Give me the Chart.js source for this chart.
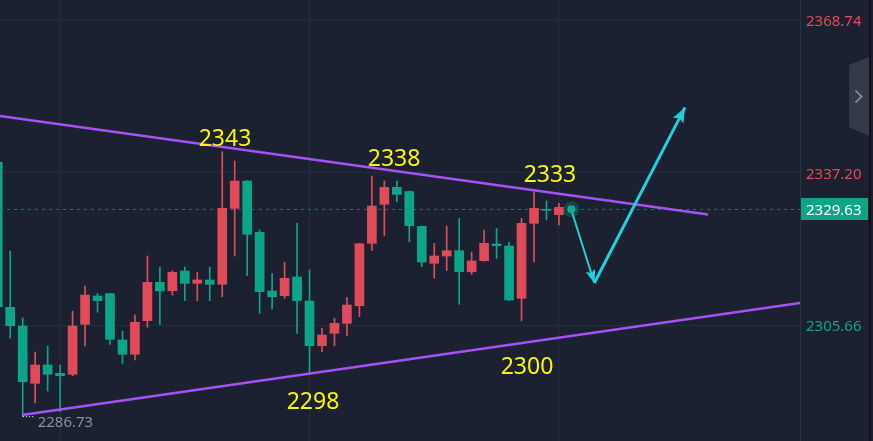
<!DOCTYPE html>
<html>
<head>
<meta charset="utf-8">
<script src="https://cdn.jsdelivr.net/npm/chart.js@4.4.0/dist/chart.umd.min.js"></script>
<style>
  html, body { margin: 0; padding: 0; background: #1b2130; }
  #wrap { position: relative; width: 873px; height: 441px; }
</style>
</head>
<body>
<div id="wrap"><canvas id="c"></canvas></div>
<script>
// ---- data ----
const opens  = [2339.35,2309.36,2305.49,2293.64,2297.43,2295.71,2295.50,2305.84,2311.70,2312.20,
                2302.60,2299.64,2306.59,2314.53,2312.79,2316.87,2314.32,2315.01,2314.12,2329.84,
                2335.48,2324.87,2312.73,2311.76,2315.63,2310.66,2301.42,2303.98,2306.05,2309.69,
                2322.60,2330.66,2334.18,2333.30,2326.10,2318.46,2319.97,2321.07,2316.72,2319.00,
                2322.45,2322.04,2311.22,2326.73,2329.63,2328.51];
const highs  = [2339.50,2321.01,2307.15,2300.12,2301.36,2297.43,2308.53,2313.77,2312.26,2312.26,
                2304.46,2307.83,2319.97,2317.70,2316.87,2317.70,2316.60,2317.70,2341.54,2339.62,
                2335.60,2325.35,2316.39,2318.67,2326.73,2317.08,2305.02,2307.09,2311.43,2322.60,
                2336.52,2335.48,2335.48,2333.41,2326.18,2322.60,2326.18,2327.77,2320.80,2325.35,
                2325.70,2322.87,2327.77,2333.15,2331.35,2330.87];
const lows   = [2309.30,2303.01,2286.73,2289.57,2292.05,2287.77,2295.21,2301.36,2308.33,2301.71,
                2297.78,2298.46,2305.22,2305.84,2311.90,2310.73,2310.73,2310.73,2311.55,2319.97,
                2315.90,2308.12,2308.95,2311.22,2303.98,2295.56,2300.18,2301.42,2303.49,2307.42,
                2321.07,2324.17,2331.20,2322.93,2317.76,2315.36,2316.93,2309.98,2316.19,2318.90,
                2319.50,2310.73,2306.59,2318.73,2327.42,2326.38];
const closes = [2309.48,2305.55,2293.97,2297.43,2295.50,2295.21,2305.49,2311.90,2310.73,2302.74,
                2299.64,2306.26,2314.53,2312.79,2316.60,2314.32,2315.01,2314.12,2329.84,2335.48,
                2324.46,2312.59,2311.55,2315.36,2310.73,2301.42,2303.63,2306.05,2309.84,2322.50,
                2330.31,2334.18,2332.73,2326.24,2318.73,2319.97,2321.07,2316.72,2318.94,2322.60,
                2322.10,2310.87,2326.73,2329.84,2329.42,2330.04];
const lastIndex = 46;
const lastPrice = 2329.63;
const lowIndex = 2;
const lowPrice = 2286.73;

const axisTicks = [2368.74, 2337.20, 2305.66];
const timeGridTicks = [5, 25, 45];

const upperLineX = [0.18, 56.96];
const upperLineY = [2348.93, 2328.55];
const lowerLineX = [1.94, 66];
const lowerLineY = [2287.08, 2310.87];

const arrowDownX = [45.97, 47.84];
const arrowDownY = [2329.69, 2314.39];
const arrowUpX   = [47.84, 55.11];
const arrowUpY   = [2314.39, 2350.71];

const noteTexts = ['2343', '2338', '2333', '2298', '2300'];
const noteX     = [18.22, 31.78, 44.28, 25.28, 42.44];
const noteY     = [2342.72, 2338.59, 2335.34, 2288.26, 2295.56];

// ---- styling ----
const UP = '#e04b5a', DOWN = '#0ca58a';
const BG = '#1b2130', GRID = '#262d3a';

const idx = opens.map((_, i) => i);
const candleColors = idx.map(i => closes[i] >= opens[i] ? UP : DOWN);
const wickData = idx.map(i => ({x: i, y: [lows[i], highs[i]]}));
const bodyData = idx.map(i => ({x: i, y: [Math.min(opens[i], closes[i]), Math.max(opens[i], closes[i])]}));
const pts = (xs, ys) => xs.map((x, i) => ({x, y: ys[i]}));

function zeroPad(s) { s.paddingTop = 0; s.paddingBottom = 0; s.paddingLeft = 0; s.paddingRight = 0; }

const bgPlugin = {
  id: 'bg',
  beforeDraw(chart) {
    const {ctx, width, height} = chart;
    ctx.save();
    ctx.fillStyle = BG;
    ctx.fillRect(0, 0, width, height);
    ctx.restore();
  },
  beforeDatasetsDraw(chart) {
    const {ctx, chartArea} = chart;
    const y = chart.scales.y.getPixelForValue(lastPrice);
    ctx.save();
    ctx.strokeStyle = '#21705f';
    ctx.lineWidth = 1;
    ctx.setLineDash([3, 4]);
    ctx.beginPath();
    ctx.moveTo(chartArea.left, Math.round(y) + 0.5);
    ctx.lineTo(chartArea.right, Math.round(y) + 0.5);
    ctx.stroke();
    ctx.restore();
  }
};

function arrowHead(ctx, x0, y0, x1, y1, len, half, color) {
  const a = Math.atan2(y1 - y0, x1 - x0);
  ctx.save();
  ctx.fillStyle = color;
  ctx.translate(x1, y1);
  ctx.rotate(a);
  ctx.beginPath();
  ctx.moveTo(0, 0);
  ctx.lineTo(-len, -half);
  ctx.lineTo(-len * 0.8, 0);
  ctx.lineTo(-len, half);
  ctx.closePath();
  ctx.fill();
  ctx.restore();
}

const overlayPlugin = {
  id: 'overlay',
  afterDatasetsDraw(chart) {
    const {ctx} = chart;
    const xs = chart.scales.x, ys = chart.scales.y;
    chart.data.datasets.forEach((ds, di) => {
      if (!ds.arrow) return;
      const p = chart.getDatasetMeta(di).data;
      const a = p[p.length - 2], b = p[p.length - 1];
      arrowHead(ctx, a.x, a.y, b.x, b.y, ds.arrow.len, ds.arrow.half, ds.borderColor);
    });
    ctx.save();
    ctx.fillStyle = '#f7f700';
    ctx.font = '23px "Noto Sans", "Open Sans", sans-serif';
    ctx.textAlign = 'center';
    ctx.textBaseline = 'alphabetic';
    noteTexts.forEach((t, i) => {
      ctx.fillText(t, xs.getPixelForValue(noteX[i]), ys.getPixelForValue(noteY[i]));
    });
    ctx.restore();
    const lx = xs.getPixelForValue(lowIndex), ly = ys.getPixelForValue(lowPrice);
    ctx.save();
    ctx.fillStyle = '#c0c4cc';
    for (let k = 0; k < 4; k++) ctx.fillRect(Math.round(lx) + k * 3, Math.round(ly) - 1, 1.2, 1.2);
    ctx.fillStyle = '#8a909c';
    ctx.font = '15px "Noto Sans", sans-serif';
    ctx.textAlign = 'left';
    ctx.textBaseline = 'alphabetic';
    ctx.fillText(lowPrice.toFixed(2), lx + 15, ly + 10);
    ctx.restore();
  },
  afterDraw(chart) {
    const {ctx, chartArea} = chart;
    const y = chart.scales.y.getPixelForValue(lastPrice);
    ctx.save();
    ctx.fillStyle = '#0fa388';
    ctx.fillRect(chartArea.right + 1, Math.round(y) - 11, 67, 22);
    ctx.fillStyle = '#ffffff';
    ctx.font = '15px "Noto Sans", sans-serif';
    ctx.textAlign = 'left';
    ctx.textBaseline = 'middle';
    ctx.fillText(lastPrice.toFixed(2), chartArea.right + 6, y + 1);
    ctx.fillStyle = '#0f1219';
    ctx.fillRect(869, 0, 2, chart.height);
    ctx.fillStyle = '#343a48';
    ctx.beginPath();
    ctx.moveTo(849, 65); ctx.lineTo(869, 57); ctx.lineTo(869, 136); ctx.lineTo(849, 127);
    ctx.closePath(); ctx.fill();
    ctx.strokeStyle = '#8c92a0';
    ctx.lineWidth = 1.6;
    ctx.beginPath();
    ctx.moveTo(855.5, 90.5); ctx.lineTo(861.5, 96.5); ctx.lineTo(855.5, 102.5);
    ctx.stroke();
    ctx.restore();
  }
};

new Chart(document.getElementById('c'), {
  type: 'bar',
  data: {
    datasets: [
      { type: 'bar', data: wickData, backgroundColor: candleColors, barThickness: 1, grouped: false, order: 10, minBarLength: 1 },
      { type: 'bar', data: bodyData, backgroundColor: candleColors, barThickness: 9, grouped: false, order: 9, minBarLength: 1 },
      { type: 'line', data: pts(upperLineX, upperLineY), borderColor: '#a652f5', borderWidth: 2.5, pointRadius: 0, order: 5 },
      { type: 'line', data: pts(lowerLineX, lowerLineY), borderColor: '#a652f5', borderWidth: 2.5, pointRadius: 0, order: 5 },
      { type: 'line', data: pts(arrowDownX, arrowDownY), borderColor: '#22cfdc', borderWidth: 2, pointRadius: 0, order: 4, arrow: {len: 13, half: 5} },
      { type: 'line', data: pts(arrowUpX, arrowUpY), borderColor: '#22cfdc', borderWidth: 3, pointRadius: 0, order: 4, arrow: {len: 15, half: 6} },
      { type: 'scatter', data: [{x: lastIndex, y: lastPrice}], backgroundColor: 'rgba(16,170,140,0.28)', pointRadius: 8, borderWidth: 0, order: 3 },
      { type: 'scatter', data: [{x: lastIndex, y: lastPrice}], backgroundColor: '#14a98d', pointRadius: 4, borderWidth: 0, order: 2 }
    ]
  },
  options: {
    responsive: true,
    maintainAspectRatio: false,
    animation: false,
    events: [],
    layout: { padding: 0, autoPadding: false },
    plugins: { legend: { display: false }, tooltip: { enabled: false } },
    scales: {
      x: {
        type: 'linear',
        min: 0.18,
        max: 64.33,
        offset: false,
        afterBuildTicks: s => { s.ticks = timeGridTicks.map(v => ({value: v})); },
        afterFit: s => { s.height = 0; zeroPad(s); },
        ticks: { display: false },
        grid: { color: GRID, drawTicks: false, offset: false },
        border: { display: false }
      },
      y: {
        position: 'right',
        min: 2281.71,
        max: 2372.92,
        afterBuildTicks: s => { s.ticks = axisTicks.map(v => ({value: v})); },
        afterFit: s => { s.width = 73; zeroPad(s); },
        ticks: {
          autoSkip: false,
          padding: 6,
          labelOffset: 2,
          font: { family: '"Noto Sans", sans-serif', size: 15 },
          color: c => (c.tick && c.tick.value > lastPrice) ? UP : DOWN,
          callback: v => Number(v).toFixed(2)
        },
        grid: { color: GRID, drawTicks: false },
        border: { color: '#2b3242', width: 1 }
      }
    }
  },
  plugins: [bgPlugin, overlayPlugin]
});
</script>
</body>
</html>
